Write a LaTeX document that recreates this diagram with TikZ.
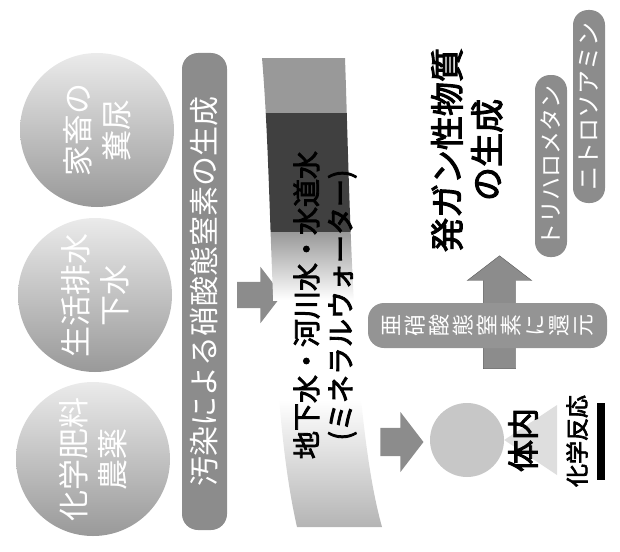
\documentclass[tikz,border=0pt]{standalone}
\usepackage{fontspec}
\setmainfont{Noto Sans CJK JP}
\newfontfamily\jpbold{Noto Sans CJK JP}[FakeBold=3]
\usetikzlibrary{shapes.arrows}

\begin{document}
\begin{tikzpicture}[
   x=1pt, y=-1pt,
   source/.style={circle, minimum size=154pt, inner sep=0pt, rotate=90,
      top color=black!8, bottom color=black!40, text=white,
      align=center, font=\fontsize{31}{39}\selectfont},
   bar/.style={rounded corners=16pt, fill=black!45, text=white, inner sep=0pt, rotate=90},
   blockarrow/.style={single arrow, fill=black!45, inner sep=0pt, single arrow tip angle=105},
   label/.style={rotate=90, align=center}
]
\useasboundingbox (0,0) rectangle (620,551);

% Sources
\node[source] (manure) at (97,130) {家畜の\\糞尿};
\node[source] (sewage) at (95,295) {生活排水\\下水};
\node[source] (fert) at (93,459) {化学肥料\\農薬};

% Nitrate
\node[bar, minimum width=477pt, minimum height=45pt, font=\fontsize{30}{30}\selectfont]
   (nitrate) at (204.5,291.5) {汚染による硝酸態窒素の生成};
\node[blockarrow, minimum height=45pt, inner ysep=13pt, single arrow head extend=15pt]
   (toWater) at (254.5,295) {};

% Water
\begin{scope}
  \clip (262,58) .. controls (274,200) and (268,400) .. (297,527)
     -- (382,527) .. controls (352,420) and (350,200) .. (345,58) -- cycle;
  \fill[black!40] (250,50) rectangle (390,113);
  \fill[black!75] (250,113) rectangle (390,232);
  \shade[top color=black!40, bottom color=white] (250,232) rectangle (390,300);
  \shade[top color=white, bottom color=black!30] (250,400) rectangle (390,530);
\end{scope}
\node[label, font=\jpbold\fontsize{28}{34}\selectfont] (water) at (325,305)
   {地下水・河川水・水道水\\(ミネラルウォーター)};

% Body
\node[blockarrow, minimum height=43pt, inner ysep=14pt, single arrow head extend=16pt]
   (toBody) at (396.5,442) {};
\node[circle, minimum size=74pt, fill=black!22] (body) at (467,440) {};
\fill[black!13] (body.east) -- (557,405) -- (557,475) -- cycle;
\node[label, font=\jpbold\fontsize{32}{32}\selectfont] (inside) at (523,440) {体内};
\node[label, font=\jpbold\fontsize{23}{23}\selectfont] (reaction) at (577,441) {化学反応};
\node[fill=black, minimum width=8pt, minimum height=77pt, inner sep=0pt] (rule) at (601,441) {};

% Reduction
\node[blockarrow, rotate=90, minimum height=113pt, inner ysep=16pt, single arrow head extend=16pt,
   draw=black!65] (toCancer) at (499.5,318.5) {};
\node[bar, minimum width=45pt, minimum height=239pt, fill=black!42, font=\fontsize{22}{24}\selectfont, align=center]
   (reduce) at (487.5,325.5) {亜\\硝\\酸\\態\\窒\\素\\に\\還\\元};

% Carcinogens
\node[label, font=\jpbold\fontsize{34}{40}\selectfont] (cancer) at (467,150) {発ガン性物質\\の生成};
\node[bar, minimum width=182pt, minimum height=32pt, rounded corners=15pt, font=\fontsize{23}{23}\selectfont]
   (thm) at (551,166) {トリハロメタン};
\node[bar, minimum width=193pt, minimum height=32pt, rounded corners=15pt, font=\fontsize{24}{24}\selectfont]
   (nitroso) at (589,106.5) {ニトロソアミン};

\end{tikzpicture}
\end{document}
